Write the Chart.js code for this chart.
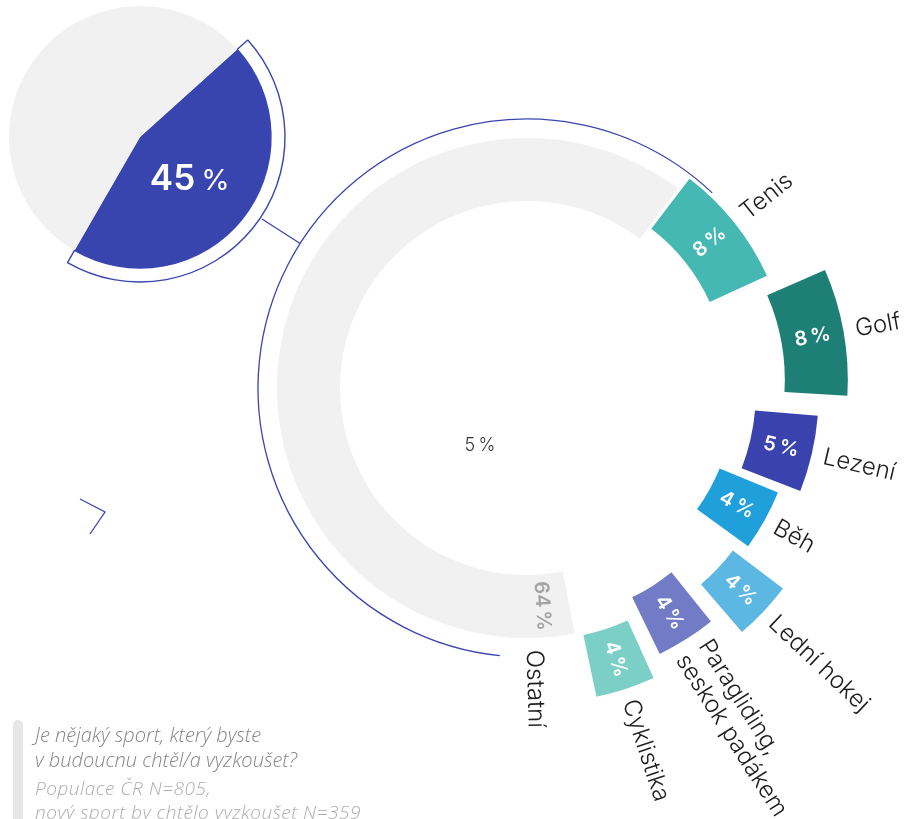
<!DOCTYPE html>
<html>
<head>
<meta charset="utf-8">
<script src="https://cdn.jsdelivr.net/npm/chart.js@4.4.0/dist/chart.umd.min.js"></script>
<style>
    html, body { margin: 0; padding: 0; background: #fff; width: 910px; height: 819px; overflow: hidden; }
    .layer { position: absolute; left: 0; top: 0; width: 910px; height: 819px; }
    #bar { position: absolute; left: 13px; top: 720px; width: 10px; height: 120px; background: #e6e6e6; border-radius: 5px; }
    #note { position: absolute; left: 35px; top: 722px; font-family: "Open Sans", sans-serif; font-style: italic; font-weight: 300; }
    #note .q { font-size: 20px; line-height: 25px; color: #868686; }
    #note .n { font-size: 19px; line-height: 24px; color: #adadad; margin-top: 4px; letter-spacing: 0.5px; }
</style>
</head>
<body>
<div class="layer"><canvas id="sports"></canvas></div>
<div class="layer"><canvas id="share"></canvas></div>
<div id="bar"></div>
<div id="note">
    <div class="q">Je nějaký sport, který byste<br>v budoucnu chtěl/a vyzkoušet?</div>
    <div class="n">Populace ČR N=805,<br>nový sport by chtělo vyzkoušet N=359</div>
</div>
<script>
// small pie: share of people who want to try a new sport
const shareLabels = ['Chce vyzkoušet nový sport', 'Nechce'];
const shareValues = [45, 55];

// big ring: which sport
const sportLabels = ['Ostatní', 'Tenis', 'Golf', 'Lezení', 'Běh', 'Lední hokej', ['Paragliding,', 'seskok padákem'], 'Cyklistika'];
const sportValues = [64, 8, 8, 5, 4, 4, 4, 4];
const sportColors = ['#f1f1f1', '#45b8b3', '#1d7f76', '#3942ad', '#1fa0db', '#5db7e3', '#717bc6', '#7ccfc7'];
const sportOffsets = [0, 40, 188, 100, 50, 172, 108, 152];

const BLUE = '#3a45b0';
const FONT = 'Inter, "Open Sans", sans-serif';

const deg = d => d * Math.PI / 180;

const sportLabelsPlugin = {
    id: 'sportLabels',
    afterDatasetsDraw(chart) {
        const ctx = chart.ctx;
        const meta = chart.getDatasetMeta(0);
        let cx = 0, cy = 0, outer = 0;
        meta.data.forEach((arc, i) => {
            const p = arc.getProps(['x', 'y', 'startAngle', 'endAngle', 'innerRadius', 'outerRadius', 'circumference']);
            cx = p.x; cy = p.y; outer = p.outerRadius;
            const t = (arc.options.offset || 0) / 4;
            const fix = 1 - Math.sin(Math.min(Math.PI, p.circumference));
            const grow = t * fix;
            const mid = (p.startAngle + p.endAngle) / 2;
            let ang = mid, angText = mid;
            if (i === 0) { ang = p.startAngle + deg(7); angText = p.startAngle + deg(9.5); }
            const rMid = t + (p.innerRadius + p.outerRadius) / 2 + grow;
            const rOut = t + p.outerRadius + grow + 12;

            // value
            ctx.save();
            ctx.translate(cx + Math.cos(ang) * rMid, cy + Math.sin(ang) * rMid);
            ctx.rotate(ang);
            ctx.font = '600 20px ' + FONT;
            ctx.fillStyle = i === 0 ? '#a3a3a3' : '#ffffff';
            ctx.textAlign = 'center';
            ctx.textBaseline = 'middle';
            ctx.fillText(sportValues[i] + '\u202f%', 0, 0);
            ctx.restore();

            // category
            const lines = [].concat(sportLabels[i]);
            ctx.save();
            ctx.translate(cx + Math.cos(angText) * rOut, cy + Math.sin(angText) * rOut);
            ctx.rotate(angText);
            ctx.font = '300 24px ' + FONT;
            ctx.fillStyle = '#1e1e1e';
            ctx.textAlign = 'left';
            ctx.textBaseline = 'middle';
            lines.forEach((ln, k) => {
                ctx.fillText(ln, 0, (k - (lines.length - 1) / 2) * 27);
            });
            ctx.restore();
        });

        // outline arc around the ring
        ctx.save();
        ctx.strokeStyle = BLUE;
        ctx.lineWidth = 1.3;
        ctx.beginPath();
        ctx.arc(cx, cy, outer + 19, deg(95.8), deg(313.5));
        ctx.stroke();

        // connector from the small pie
        const a = deg(212.5);
        ctx.beginPath();
        ctx.moveTo(262, 219);
        ctx.lineTo(cx + Math.cos(a) * (outer + 19), cy + Math.sin(a) * (outer + 19));
        ctx.stroke();

        // small stray mark
        ctx.beginPath();
        ctx.moveTo(80, 499);
        ctx.lineTo(105, 512);
        ctx.lineTo(90, 534);
        ctx.stroke();
        ctx.restore();

        // stray centre label
        ctx.save();
        ctx.font = '300 18px ' + FONT;
        ctx.fillStyle = '#333';
        ctx.textAlign = 'center';
        ctx.textBaseline = 'middle';
        ctx.fillText('5\u202f%', 480, 446);
        ctx.restore();
    }
};

const shareLabelPlugin = {
    id: 'shareLabel',
    afterDatasetsDraw(chart) {
        const ctx = chart.ctx;
        const arc = chart.getDatasetMeta(1).data[0];
        const p = arc.getProps(['x', 'y', 'startAngle', 'endAngle']);
        const mid = (p.startAngle + p.endAngle) / 2;
        const x = p.x + Math.cos(mid) * 64;
        const y = p.y + Math.sin(mid) * 64;
        ctx.save();
        ctx.fillStyle = '#fff';
        ctx.textBaseline = 'alphabetic';
        ctx.font = '600 35px ' + FONT;
        const big = String(shareValues[0]);
        const w1 = ctx.measureText(big).width;
        ctx.font = '400 29px ' + FONT;
        const w2 = ctx.measureText('%').width;
        const x0 = x - (w1 + 6 + w2) / 2;
        ctx.font = '600 35px ' + FONT;
        ctx.fillText(big, x0, y + 13);
        ctx.font = '400 29px ' + FONT;
        ctx.fillText('%', x0 + w1 + 6, y + 13);
        ctx.restore();
    }
};

new Chart(document.getElementById('sports'), {
    type: 'doughnut',
    data: {
        labels: sportLabels,
        datasets: [{
            data: sportValues,
            backgroundColor: sportColors,
            borderWidth: 0,
            offset: sportOffsets,
            hoverOffset: 0
        }]
    },
    options: {
        responsive: true,
        maintainAspectRatio: false,
        animation: false,
        events: [],
        radius: 250,
        cutout: '74.8%',
        rotation: 169,
        layout: { padding: { left: 144, right: 0, top: 0, bottom: 43 } },
        plugins: { legend: { display: false }, tooltip: { enabled: false } }
    },
    plugins: [sportLabelsPlugin]
});

new Chart(document.getElementById('share'), {
    type: 'pie',
    data: {
        labels: shareLabels,
        datasets: [{
            data: shareValues,
            backgroundColor: ['rgba(0,0,0,0)', 'rgba(0,0,0,0)'],
            borderColor: [BLUE, 'rgba(0,0,0,0)'],
            borderWidth: [1.4, 0],
            weight: 14
        }, {
            data: shareValues,
            backgroundColor: ['#3845ae', '#f1f1f1'],
            borderWidth: 0,
            weight: 131
        }]
    },
    options: {
        responsive: true,
        maintainAspectRatio: false,
        animation: false,
        events: [],
        radius: 145,
        rotation: 48,
        layout: { padding: { left: 0, right: 630, top: 0, bottom: 545 } },
        plugins: { legend: { display: false }, tooltip: { enabled: false } }
    },
    plugins: [shareLabelPlugin]
});
</script>
</body>
</html>
